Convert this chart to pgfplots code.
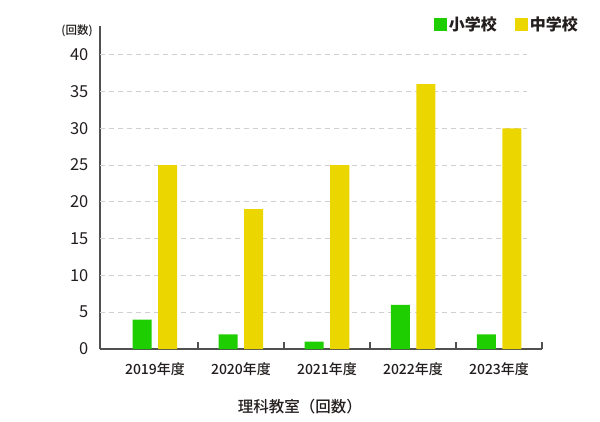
\documentclass[border=0pt]{standalone}
\usepackage{fontspec}
\setmainfont{Noto Sans CJK JP}
\newfontfamily\medfont{Noto Sans CJK JP Medium}
\usepackage{pgfplots}
\pgfplotsset{compat=1.18}
\definecolor{gr}{RGB}{30,206,0}
\definecolor{ye}{RGB}{236,214,0}
\definecolor{axc}{RGB}{80,80,80}
\definecolor{gridc}{RGB}{208,208,208}
\definecolor{txt}{RGB}{35,30,30}
\begin{document}
\begin{tikzpicture}[x=1pt,y=1pt]
\useasboundingbox (0,0) rectangle (600,421);
\begin{axis}[
  at={(100pt,72pt)}, anchor=south west,
  scale only axis, width=442pt, height=323pt,
  xmin=-0.6395, xmax=4.5, ymin=0, ymax=43.9,
  axis x line=bottom, axis y line=left,
  axis line style={-, draw=axc, line width=1.3pt},
  xtick={0,1,2,3,4},
  xticklabels={2019年度,2020年度,2021年度,2022年度,2023年度},
  major x tick style={draw=none},
  extra x ticks={0.5,1.5,2.5,3.5,4.5},
  extra x tick labels={},
  extra x tick style={tick align=inside, major tick length=7pt, major x tick style={draw=axc, line width=1.3pt}},
  xticklabel style={font=\medfont\fontsize{14}{16}\selectfont, text=txt, yshift=-8pt},
  ytick={0,5,...,40},
  major y tick style={draw=none},
  yticklabel style={font=\fontsize{16.5}{18}\selectfont, text=txt, xshift=-6pt},
  /pgf/number format/assume math mode=true,
  xlabel={理科教室（回数）},
  xlabel style={font=\medfont\fontsize{15.5}{18}\selectfont, text=txt, at={(axis description cs:0.452,0)}, anchor=center, yshift=-58pt},
  ylabel={(回数)},
  ylabel style={font=\medfont\fontsize{11.5}{13}\selectfont, text=txt, rotate=-90, at={(axis description cs:-0.052,0.984)}, anchor=center},
  legend columns=2,
  legend style={draw=none, fill=none, at={(axis description cs:1.086,1.034)}, anchor=north east,
    font=\bfseries\fontsize{16}{18}\selectfont, text=txt, inner sep=0pt,
    /tikz/every even column/.append style={column sep=16pt}},
  legend image code/.code={\fill[#1,draw=none] (0pt,-6.5pt) rectangle (13pt,6.5pt);},
  clip=false,
]
\pgfplotsinvokeforeach{5,10,15,20,25,30,35,40}{
  \draw[gridc, line width=0.9pt, dash pattern=on 5pt off 4pt] (axis cs:-0.6395,#1) -- (axis cs:4.326,#1);
}
\addplot[ybar, bar width=19pt, bar shift=-12.75pt, fill=gr, draw=none] coordinates {(0,4) (1,2) (2,1) (3,6) (4,2)};
\addlegendentry{小学校}
\addplot[ybar, bar width=19pt, bar shift=12.75pt, fill=ye, draw=none] coordinates {(0,25) (1,19) (2,25) (3,36) (4,30)};
\addlegendentry{中学校}
\end{axis}
\end{tikzpicture}
\end{document}
